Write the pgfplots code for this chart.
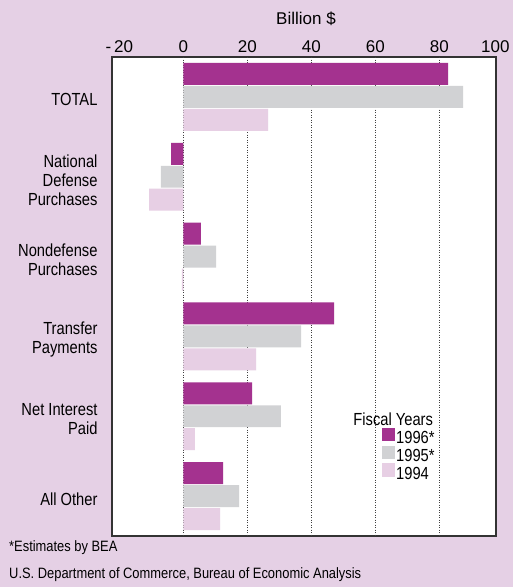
\documentclass[border=0pt]{standalone}
\usepackage{fontspec}
\setmainfont{Liberation Sans}[FakeStretch=0.84]
\newfontfamily\footfont{Liberation Sans}[FakeStretch=0.86]
\newfontfamily\plainfont{Liberation Sans}
\usepackage{pgfplots}
\pgfplotsset{compat=1.18}
\definecolor{bgpink}{RGB}{229,208,229}
\definecolor{cA}{RGB}{164,50,143}
\definecolor{cB}{RGB}{209,210,212}
\definecolor{cC}{RGB}{231,207,228}
\begin{document}
\begin{tikzpicture}[x=1pt,y=1pt]
\fill[bgpink] (0,0) rectangle (513,587);
\begin{axis}[
  at={(112pt,51pt)}, anchor=south west, scale only axis,
  width=384pt, height=479pt,
  xmin=-22.3, xmax=97.7, ymin=0.5, ymax=6.5, y dir=reverse,
  axis background/.style={fill=white},
  axis line style={draw=black!80, line width=1.1pt},
  xbar, bar width=0.275,
  xtick={-20,0,20,40,60,80,97.5},
  xticklabels={-\,20,0,20,40,60,80,100},
  xticklabel pos=upper,
  xticklabel style={anchor=base, yshift=5pt, font=\plainfont\fontsize{17}{19}\selectfont},
  major tick length=0pt,
  extra x ticks={0,20,40,60,80},
  extra x tick labels={},
  extra x tick style={grid=major, major tick length=0pt},
  major grid style={black!75, line width=0.6pt, dash pattern=on 0.7pt off 1.8pt},
  xlabel={Billion \$},
  xlabel style={at={(axis description cs:0.5,1)}, anchor=base, yshift=33pt, xshift=2pt, font=\plainfont\fontsize{17}{19}\selectfont},
  ytick={1,2,3,4,5,6},
  yticklabels={TOTAL, National\\Defense\\Purchases, Nondefense\\Purchases, Transfer\\Payments, Net Interest\\Paid, All Other},
  yticklabel style={align=right, xshift=-11pt, yshift=-3pt, font=\fontsize{17.5}{19}\selectfont},
  legend style={at={(axis description cs:0.703,0.226)}, anchor=north west, draw=none, fill=none,
    inner sep=0pt, outer sep=0pt, row sep=-2.5pt, font=\fontsize{17.5}{19}\selectfont,
    nodes={inner sep=1.25pt, text height=10pt, text depth=3pt}},
  legend cell align=left,
  legend image code/.code={\fill[#1] (0pt,-1pt) rectangle (13pt,12.5pt);},
]
\addplot[fill=cA, draw=none, bar shift=-0.2875] coordinates {(82.7,1) (-3.8,2) (5.5,3) (47.1,4) (21.5,5) (12.4,6)};
\addplot[fill=cB, draw=none, bar shift=0] coordinates {(87.4,1) (-7.0,2) (10.2,3) (36.8,4) (30.5,5) (17.4,6)};
\addplot[fill=cC, draw=none, bar shift=0.2875] coordinates {(26.5,1) (-10.7,2) (-0.5,3) (22.7,4) (3.6,5) (11.5,6)};
\legend{1996*, 1995*, 1994}
\node[anchor=base east, font=\fontsize{17.5}{19}\selectfont] at (axis description cs:0.845,0.230) {Fiscal Years};
\end{axis}
\node[anchor=base west, font=\footfont\fontsize{15}{17}\selectfont, inner sep=0pt] at (9,35) {*Estimates by BEA};
\node[anchor=base west, font=\footfont\fontsize{15}{17}\selectfont, inner sep=0pt] at (9,9) {U.S. Department of Commerce, Bureau of Economic Analysis};
\end{tikzpicture}
\end{document}
